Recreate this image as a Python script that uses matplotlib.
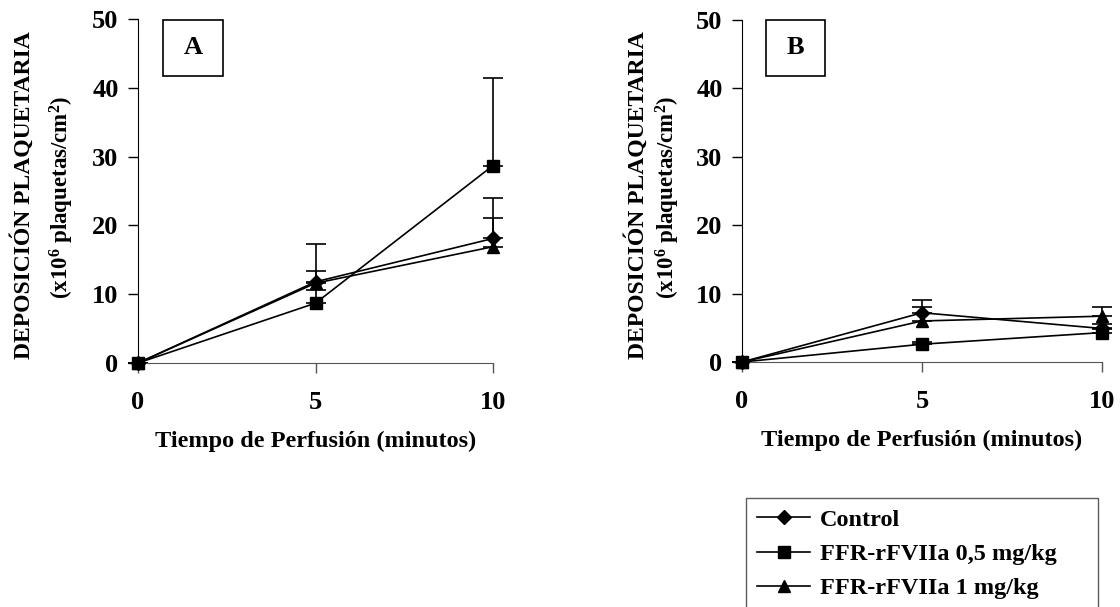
import matplotlib
matplotlib.use('Agg')
import matplotlib.pyplot as plt
from matplotlib.patches import Rectangle

plt.rcParams['font.family'] = ['Liberation Serif', 'DejaVu Serif']
plt.rcParams['font.weight'] = 'bold'
plt.rcParams['mathtext.fontset'] = 'custom'
plt.rcParams['mathtext.rm'] = 'Liberation Serif:bold'
plt.rcParams['mathtext.it'] = 'Liberation Serif:bold'
plt.rcParams['mathtext.bf'] = 'Liberation Serif:bold'

# data
tiempo = [0, 5, 10]
series = ['Control', 'FFR-rFVIIa 0,5 mg/kg', 'FFR-rFVIIa 1 mg/kg']
markers = ['D', 's', '^']
msizes = [7, 8, 9]

# panel A
a_control = [0, 11.8, 18.1]
a_control_err = [0, 5.5, 3.0]
a_ffr05 = [0, 8.7, 28.7]
a_ffr05_err = [0, 1.9, 12.7]
a_ffr1 = [0, 11.6, 16.9]
a_ffr1_err = [0, 1.8, 7.1]

# panel B
b_control = [0, 7.2, 4.9]
b_control_err = [0, 1.8, 0.6]
b_ffr05 = [0, 2.6, 4.3]
b_ffr05_err = [0, 0.3, 0.5]
b_ffr1 = [0, 6.0, 6.7]
b_ffr1_err = [0, 2.1, 1.4]

W, H = 1120, 607
fig = plt.figure(figsize=(W / 100, H / 100), dpi=100)


def px(x0, y0, x1, y1):
    return [x0 / W, 1 - y1 / H, (x1 - x0) / W, (y1 - y0) / H]


axA = fig.add_axes(px(138, 19, 493, 363))
axB = fig.add_axes(px(742, 20, 1102, 362))

panels = [
    (axA, [a_control, a_ffr05, a_ffr1], [a_control_err, a_ffr05_err, a_ffr1_err]),
    (axB, [b_control, b_ffr05, b_ffr1], [b_control_err, b_ffr05_err, b_ffr1_err]),
]

handles = []
for ax, vals, errs in panels:
    handles = []
    for v, e, m, ms, lab in zip(vals, errs, markers, msizes, series):
        ax.errorbar(tiempo, v, yerr=[[0] * len(e), e], fmt='none', ecolor='black',
                    elinewidth=1.2, capsize=7, capthick=1.2, clip_on=False, zorder=2)
        h, = ax.plot(tiempo, v, color='black', lw=1.2, marker=m, ms=ms,
                     mfc='black', mec='black', clip_on=False, zorder=3, label=lab)
        handles.append(h)
    ax.set_xlim(0, 10)
    ax.set_ylim(0, 50)
    ax.set_xticks([0, 5, 10])
    ax.set_yticks([0, 10, 20, 30, 40, 50])
    ax.spines['top'].set_visible(False)
    ax.spines['right'].set_visible(False)
    ax.spines['left'].set_color('black')
    ax.spines['bottom'].set_color('#555555')
    ax.tick_params(axis='y', direction='out', length=7, width=1, labelsize=19, pad=7)
    ax.tick_params(axis='x', direction='out', length=7, width=1, labelsize=19, pad=13,
                   color='#555555')
    for t in ax.get_xticklabels() + ax.get_yticklabels():
        t.set_fontweight('bold')
    ax.set_xlabel('Tiempo de Perfusión (minutos)', fontsize=17.5, fontweight='bold', labelpad=12)

# panel letters in boxes
for (x0, y0, x1, y1), letra in [((163, 20, 223, 76), 'A'), ((766, 20, 825, 76), 'B')]:
    fig.patches.append(Rectangle((x0 / W, 1 - y1 / H), (x1 - x0) / W, (y1 - y0) / H,
                                 transform=fig.transFigure, fill=False, ec='black', lw=1.2))
    fig.text((x0 + x1) / 2 / W, 1 - (y0 + y1) / 2 / H, letra, ha='center', va='center',
             fontsize=19, fontweight='bold')

# y labels
for x1, x2 in [(23, 62), (637, 668)]:
    fig.text(x1 / W, 1 - 195 / H, 'DEPOSICIÓN PLAQUETARIA', rotation=90,
             ha='center', va='center', fontsize=17, fontweight='bold')
    fig.text(x2 / W, 1 - 197 / H, r'(x10$^{6}$ plaquetas/cm$^{2}$)', rotation=90,
             ha='center', va='center', fontsize=16.5, fontweight='bold')

leg = fig.legend(handles=handles, labels=series, loc='upper left',
                 bbox_to_anchor=(746 / W, 1 - 498 / H, (1098 - 746) / W, 0),
                 mode='expand', borderaxespad=0, handlelength=2.2,
                 handletextpad=0.4, labelspacing=0.5, borderpad=0.45,
                 fancybox=False, frameon=True, prop={'weight': 'bold', 'size': 17.5})
leg.get_frame().set_edgecolor('#333333')
leg.get_frame().set_linewidth(1.0)

fig.savefig('out.png', dpi=100)
